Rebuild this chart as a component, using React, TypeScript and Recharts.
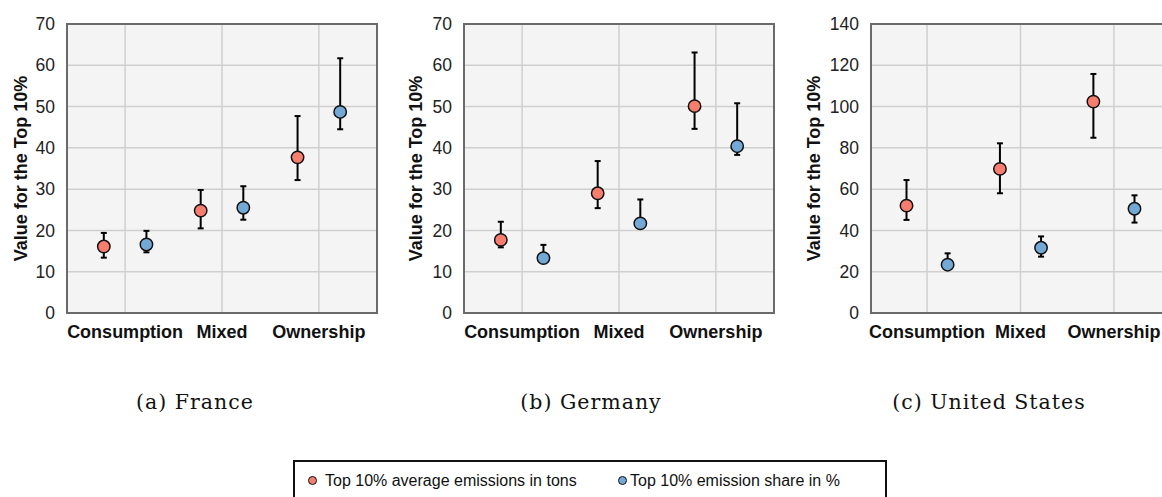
import {
  CartesianGrid,
  ErrorBar,
  ReferenceArea,
  Scatter,
  ScatterChart,
  XAxis,
  YAxis,
} from "recharts";

const categories = ["Consumption", "Mixed", "Ownership"];

// France
const franceTons = [16.1, 24.8, 37.7];
const franceTonsLow = [13.4, 20.5, 32.2];
const franceTonsHigh = [19.4, 29.8, 47.7];
const franceShare = [16.6, 25.5, 48.7];
const franceShareLow = [14.7, 22.6, 44.5];
const franceShareHigh = [19.9, 30.7, 61.7];

// Germany
const germanyTons = [17.7, 29.0, 50.1];
const germanyTonsLow = [15.9, 25.4, 44.6];
const germanyTonsHigh = [22.1, 36.8, 63.1];
const germanyShare = [13.3, 21.7, 40.4];
const germanyShareLow = [13.3, 20.6, 38.3];
const germanyShareHigh = [16.5, 27.5, 50.8];

// United States
const usTons = [52.0, 69.8, 102.4];
const usTonsLow = [45.1, 58.0, 84.9];
const usTonsHigh = [64.4, 82.2, 115.8];
const usShare = [23.4, 31.6, 50.5];
const usShareLow = [22.6, 27.3, 43.8];
const usShareHigh = [28.9, 37.1, 57.0];

const ticks70 = [0, 10, 20, 30, 40, 50, 60, 70];
const ticks140 = [0, 20, 40, 60, 80, 100, 120, 140];

const legendLabels = ["Top 10% average emissions in tons", "Top 10% emission share in %"];
const captions = ["(a) France", "(b) Germany", "(c) United States"];

const RED = "#f77e6f";
const BLUE = "#74a9d6";

function toPoints(values: number[], lows: number[], highs: number[], shift: number) {
  return values.map((v, i) => ({
    x: i + 1 + shift,
    y: v,
    err: [v - lows[i], highs[i] - v],
  }));
}

const dot = (color: string) => (props: any) =>
  <circle cx={props.cx} cy={props.cy} r={6.2} fill={color} stroke="#111" strokeWidth={1.5} />;

interface PanelProps {
  left: number;
  yWidth: number;
  rightMargin: number;
  yMax: number;
  ticks: number[];
  labelOffset: number;
  tons: ReturnType<typeof toPoints>;
  share: ReturnType<typeof toPoints>;
}

function Panel({ left, yWidth, rightMargin, yMax, ticks, labelOffset, tons, share }: PanelProps) {
  return (
    <div style={{ position: "absolute", left, top: 0 }}>
      <ScatterChart width={390} height={350} margin={{ top: 24, right: rightMargin, bottom: 0, left: 0 }}>
        <CartesianGrid stroke="#cfcfcf" strokeWidth={1.5} fill="#f4f4f4" />
        <XAxis
          type="number"
          dataKey="x"
          domain={[0.4, 3.6]}
          ticks={[1, 2, 3]}
          allowDataOverflow
          tickFormatter={(v) => categories[v - 1]}
          height={37}
          axisLine={false}
          tickLine={false}
          tickSize={0}
          tickMargin={12}
          interval={0}
          tick={{ fontSize: 18, fontWeight: 700, fill: "#111" }}
        />
        <YAxis
          type="number"
          dataKey="y"
          domain={[0, yMax]}
          ticks={ticks}
          width={yWidth}
          axisLine={false}
          tickLine={false}
          tickSize={0}
          tickMargin={12}
          tick={{ fontSize: 17.5, fill: "#222" }}
          label={{
            value: "Value for the Top 10%",
            angle: -90,
            position: "insideLeft",
            offset: labelOffset,
            style: { textAnchor: "middle", fontSize: 18, fontWeight: 700, fill: "#111" },
          }}
        />
        <ReferenceArea
          x1={0.4}
          x2={3.6}
          y1={0}
          y2={yMax}
          fill="none"
          stroke="#6a6a6a"
          strokeWidth={2}
          ifOverflow="visible"
        />
        <Scatter data={tons} shape={dot(RED)} isAnimationActive={false}>
          <ErrorBar dataKey="err" direction="y" width={3} stroke="#000" strokeWidth={2} />
        </Scatter>
        <Scatter data={share} shape={dot(BLUE)} isAnimationActive={false}>
          <ErrorBar dataKey="err" direction="y" width={3} stroke="#000" strokeWidth={2} />
        </Scatter>
      </ScatterChart>
    </div>
  );
}

const captionCenters = [195, 591, 989];

export default function App() {
  return (
    <div
      style={{
        position: "absolute",
        left: 0,
        top: 0,
        width: 1162,
        height: 497,
        overflow: "hidden",
        background: "#fff",
        fontFamily: "'Liberation Sans', Arial, Helvetica, sans-serif",
      }}
    >
      <Panel
        left={0}
        yWidth={67}
        rightMargin={13}
        yMax={70}
        ticks={ticks70}
        labelOffset={20.5}
        tons={toPoints(franceTons, franceTonsLow, franceTonsHigh, -0.22)}
        share={toPoints(franceShare, franceShareLow, franceShareHigh, 0.22)}
      />
      <Panel
        left={395}
        yWidth={69}
        rightMargin={11}
        yMax={70}
        ticks={ticks70}
        labelOffset={21}
        tons={toPoints(germanyTons, germanyTonsLow, germanyTonsHigh, -0.22)}
        share={toPoints(germanyShare, germanyShareLow, germanyShareHigh, 0.22)}
      />
      <Panel
        left={790}
        yWidth={81}
        rightMargin={10}
        yMax={140}
        ticks={ticks140}
        labelOffset={24}
        tons={toPoints(usTons, usTonsLow, usTonsHigh, -0.22)}
        share={toPoints(usShare, usShareLow, usShareHigh, 0.22)}
      />
      {captions.map((c, i) => (
        <div
          key={c}
          style={{
            position: "absolute",
            left: captionCenters[i] - 150,
            width: 300,
            top: 390,
            textAlign: "center",
            fontFamily: "'DejaVu Serif', serif",
            fontSize: 20.5,
            letterSpacing: 1,
            color: "#111",
          }}
        >
          {c}
        </div>
      ))}
      <div
        style={{
          position: "absolute",
          left: 293,
          top: 460,
          width: 590,
          height: 60,
          border: "2px solid #111",
          fontSize: 16,
          color: "#111",
        }}
      >
        {legendLabels.map((t, i) => (
          <div key={t}>
            <span
              style={{
                position: "absolute",
                left: i === 0 ? 13 : 323,
                top: 14,
                width: 7,
                height: 7,
                borderRadius: "50%",
                background: i === 0 ? RED : BLUE,
                border: "1.5px solid #111",
              }}
            />
            <span
              style={{
                position: "absolute",
                left: i === 0 ? 30 : 335,
                top: 10,
                whiteSpace: "nowrap",
              }}
            >
              {t}
            </span>
          </div>
        ))}
      </div>
    </div>
  );
}
